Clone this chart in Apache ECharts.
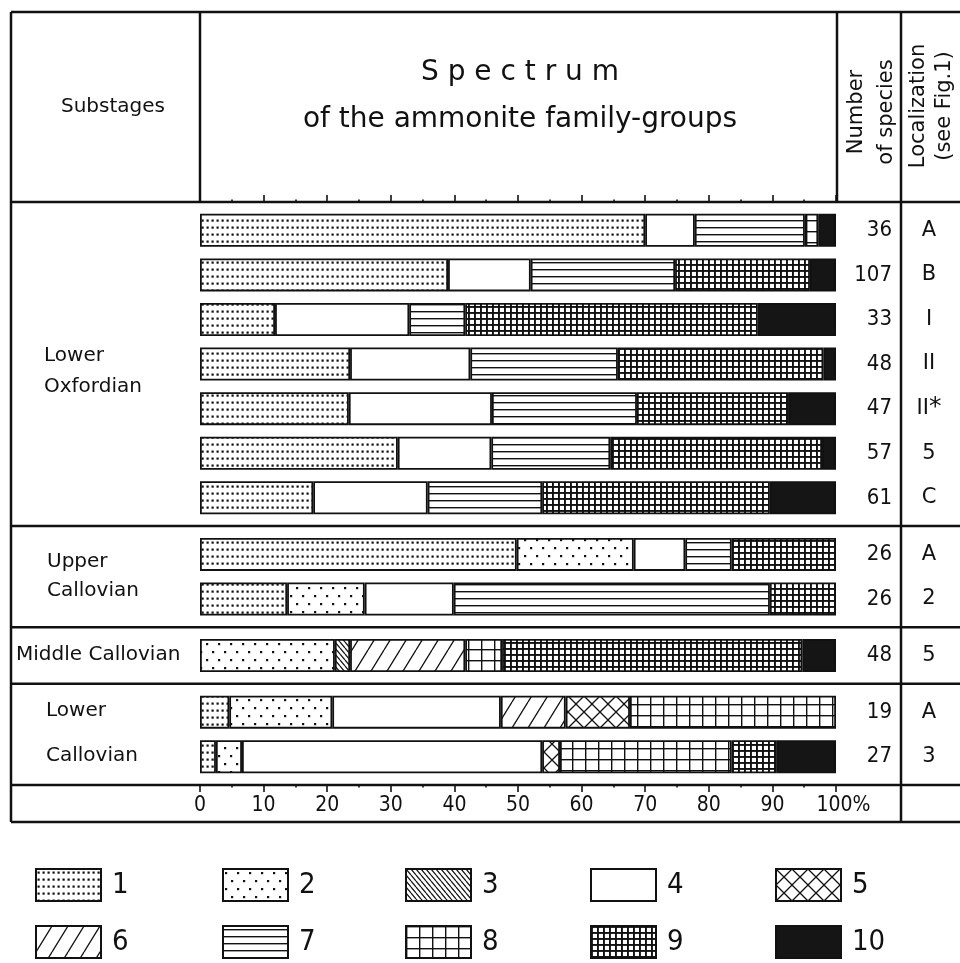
<!DOCTYPE html>
<html><head><meta charset="utf-8">
<script src="https://cdn.jsdelivr.net/npm/echarts@6/dist/echarts.min.js"></script>
<style>html,body{margin:0;padding:0;background:#fff}#c{width:960px;height:963px}</style>
</head><body><div id="c"></div>
<script>
// ---------------- DATA ----------------
const substages = ['Lower\nOxfordian', 'Upper\nCallovian', 'Middle Callovian', 'Lower\nCallovian'];
const sectionSizes = [7, 2, 1, 2];
const speciesCount = [36, 107, 33, 48, 47, 57, 61, 26, 26, 48, 19, 27];
const localization = ['A', 'B', 'I', 'II', 'II*', '5', 'C', 'A', '2', '5', 'A', '3'];
const familyGroups = ['1', '2', '3', '4', '5', '6', '7', '8', '9', '10'];
// percentage share of each family-group, one value per row (top to bottom)
const group1  = [70.0, 39.0, 11.8, 23.6, 23.4, 31.1, 17.8, 49.8, 13.7, 0, 4.6, 2.5];
const group2  = [0, 0, 0, 0, 0, 0, 0, 18.4, 12.2, 21.2, 16.2, 4.1];
const group3  = [0, 0, 0, 0, 0, 0, 0, 0, 0, 2.4, 0, 0];
const group4  = [7.8, 13.0, 21.1, 18.9, 22.5, 14.7, 18.0, 8.1, 14.0, 0, 26.5, 47.2];
const group5  = [0, 0, 0, 0, 0, 0, 0, 0, 0, 0, 10.1, 2.8];
const group6  = [0, 0, 0, 0, 0, 0, 0, 0, 0, 18.1, 10.2, 0];
const group7  = [17.3, 22.7, 8.8, 23.2, 22.8, 18.7, 18.0, 7.3, 49.7, 0, 0, 0];
const group8  = [2.1, 0, 0, 0, 0, 0, 0, 0, 0, 5.8, 32.4, 27.0];
const group9  = [0, 21.2, 46.0, 32.3, 23.9, 33.3, 35.8, 16.4, 10.4, 47.2, 0, 7.1];
const group10 = [2.8, 4.1, 12.3, 2.0, 7.4, 2.2, 10.4, 0, 0, 5.3, 0, 9.3];
// order in which the groups are stacked from the left
const stackOrder = [0, 1, 2, 3, 5, 4, 6, 7, 8, 9];

// ---------------- STYLE / LAYOUT ----------------
const INK = '#111';
const SANS = "'DejaVu Sans', sans-serif";
const NARROW = "'Liberation Sans Narrow', 'DejaVu Sans Condensed', 'DejaVu Sans', sans-serif";
const L = { left: 11, right: 960, top: 12, headBottom: 202, bodyBottom: 785, bottom: 822,
  plotLeft: 200, plotRight: 836, colNum: 837, colLoc: 901, secPad: 6, barH: 33 };

function tile(w, h, draw) {
  const c = document.createElement('canvas');
  c.width = w; c.height = h;
  const ctx = c.getContext('2d');
  ctx.fillStyle = '#fff'; ctx.fillRect(0, 0, w, h);
  ctx.fillStyle = INK; ctx.strokeStyle = INK;
  draw(ctx, w, h);
  return { image: c, repeat: 'repeat' };
}
const patterns = [
  tile(5, 7, (x) => { x.fillRect(1.5, 2.5, 2.2, 2.2); }),
  tile(12, 16, (x) => { x.fillRect(2, 3, 2.2, 2.2); x.fillRect(8, 11, 2.2, 2.2); }),
  tile(5, 6, (x, w, h) => { x.lineWidth = 1.2; x.beginPath(); for (let k = -1; k <= 1; k++) { x.moveTo(k * w, 0); x.lineTo(k * w + w, h); } x.stroke(); }),
  '#ffffff',
  tile(16, 16, (x, w, h) => { x.lineWidth = 1.3; x.beginPath(); for (let k = -1; k <= 1; k++) { x.moveTo(k * w, 0); x.lineTo(k * w + w, h); x.moveTo(k * w + w, 0); x.lineTo(k * w, h); } x.stroke(); }),
  tile(16, 26, (x, w, h) => { x.lineWidth = 1.3; x.beginPath(); for (let k = -1; k <= 1; k++) { x.moveTo(k * w, h); x.lineTo(k * w + w, 0); } x.stroke(); }),
  tile(8, 7, (x) => { x.fillRect(0, 3, 8, 1.4); }),
  tile(13, 11, (x) => { x.fillRect(0, 0, 13, 1.4); x.fillRect(0, 0, 1.4, 11); }),
  tile(6, 6, (x) => { x.fillRect(0, 0, 6, 1.9); x.fillRect(0, 0, 1.9, 6); }),
  '#151515'
];

const groups = [group1, group2, group3, group4, group5, group6, group7, group8, group9, group10];
const nRows = speciesCount.length;
const pitch = (L.bodyBottom - L.headBottom - sectionSizes.length * 2 * L.secPad) / nRows;

const grids = [], xAxes = [], yAxes = [], series = [], bounds = [L.headBottom];
let y = L.headBottom, start = 0;
sectionSizes.forEach((n, g) => {
  const top = y + L.secPad, h = n * pitch;
  grids.push({ left: L.plotLeft, width: L.plotRight - L.plotLeft, top: top, height: h });
  y = top + h + L.secPad; bounds.push(y);
  const showAx = g === 0 || g === sectionSizes.length - 1;
  xAxes.push({
    gridIndex: g, type: 'value', min: 0, max: 100, interval: 10, show: showAx,
    position: g === 0 ? 'top' : 'bottom', offset: L.secPad,
    axisLine: { show: false }, splitLine: { show: false },
    axisTick: { show: true, length: 7, lineStyle: { color: INK, width: 1.6 } },
    minorTick: { show: true, splitNumber: 2, length: 2.5, lineStyle: { color: INK, width: 1.6 } },
    axisLabel: { show: g !== 0, margin: 10, color: INK, fontSize: 21, fontFamily: NARROW,
      showMinLabel: true, showMaxLabel: true,
      formatter: (v) => v === 100 ? '{p|100%}' : String(v),
      rich: { p: { fontSize: 21, fontFamily: NARROW, color: INK, padding: [0, 0, 0, 15] } } }
  });
  const rows = speciesCount.slice(start, start + n).map((_, i) => 'r' + (start + i));
  yAxes.push({ gridIndex: g, type: 'category', inverse: true, data: rows, show: false });
  yAxes.push({ gridIndex: g, type: 'category', inverse: true, position: 'right',
    data: speciesCount.slice(start, start + n).map(String),
    axisLine: { show: false }, axisTick: { show: false },
    axisLabel: { margin: 56, align: 'right', color: INK, fontSize: 22, fontFamily: NARROW } });
  yAxes.push({ gridIndex: g, type: 'category', inverse: true, position: 'right', offset: 93,
    data: localization.slice(start, start + n),
    axisLine: { show: false }, axisTick: { show: false },
    axisLabel: { margin: 0, align: 'center', color: INK, fontSize: 21, fontFamily: SANS,
      formatter: (v) => v.replace('*', '{s|*}'),
      rich: { s: { fontSize: 25, fontFamily: SANS, color: INK, padding: [0, 0, 3, 0] } } } });
  stackOrder.forEach((k) => {
    series.push({
      type: 'bar', name: familyGroups[k], stack: 'sec' + g, xAxisIndex: g, yAxisIndex: 3 * g,
      barWidth: L.barH, silent: true,
      data: groups[k].slice(start, start + n).map((v) => v > 0 ? v : '-'),
      itemStyle: { color: patterns[k], borderColor: INK, borderWidth: 1.8 }
    });
  });
  start += n;
});

// ---------------- GRAPHIC: table rules and text ----------------
const lineW = 2.5;
const gfx = [];
const hline = (yy, x1, x2) => gfx.push({ type: 'line', silent: true, shape: { x1: x1, y1: yy, x2: x2, y2: yy }, style: { stroke: INK, lineWidth: lineW } });
const vline = (xx, y1, y2) => gfx.push({ type: 'line', silent: true, shape: { x1: xx, y1: y1, x2: xx, y2: y2 }, style: { stroke: INK, lineWidth: lineW } });
hline(L.top, L.left, L.right);
bounds.forEach((b) => hline(b, L.left, L.right));
hline(L.bottom, L.left, L.right);
vline(L.left, L.top, L.bottom);
vline(L.plotLeft, L.top, L.headBottom);
vline(L.colNum, L.top, L.headBottom);
vline(L.colLoc, L.top, L.bottom);

const txt = (t, x, yy, size, fam, opt) => gfx.push(Object.assign({ type: 'text', silent: true, x: x, y: yy,
  style: Object.assign({ text: t, fill: INK, fontSize: size, fontFamily: fam, align: 'center', verticalAlign: 'middle' }, (opt && opt.style) || {}) },
  (opt && opt.el) || {}));

txt('Substages', 113, 107, 20, SANS);
txt('S p e c t r u m', 520, 73, 28, SANS);
txt('of the ammonite family-groups', 520, 120, 28, SANS);
txt('Number\nof species', 872, 112, 21, SANS, { style: { lineHeight: 30 }, el: { rotation: Math.PI / 2 } });
txt('Localization\n(see Fig.1)', 932, 106, 21, SANS, { style: { lineHeight: 26 }, el: { rotation: Math.PI / 2 } });

const subPos = [[44, 371, 31], [47, 576, 29], [16, 655, 24], [46, 733, 45]];
substages.forEach((s, i) => txt(s, subPos[i][0], subPos[i][1], 20, SANS, { style: { align: 'left', lineHeight: subPos[i][2] } }));

// ---------------- LEGEND ----------------
const legendCols = [35, 222, 405, 590, 775], legendRows = [868, 925];
const legends = familyGroups.map((n, i) => ({
  data: [n], left: legendCols[i % 5], top: legendRows[Math.floor(i / 5)], orient: 'horizontal',
  itemWidth: 65, itemHeight: 32, icon: 'rect', itemGap: 0, padding: 0, selectedMode: false,
  itemStyle: { borderColor: INK, borderWidth: 2 },
  textStyle: { fontSize: 29, fontFamily: NARROW, color: INK, padding: [0, 0, 0, 6] }
}));

const chart = echarts.init(document.getElementById('c'), null, { renderer: 'canvas' });
chart.setOption({
  animation: false, backgroundColor: '#fff',
  grid: grids, xAxis: xAxes, yAxis: yAxes, series: series, legend: legends, graphic: gfx
});
</script></body></html>
